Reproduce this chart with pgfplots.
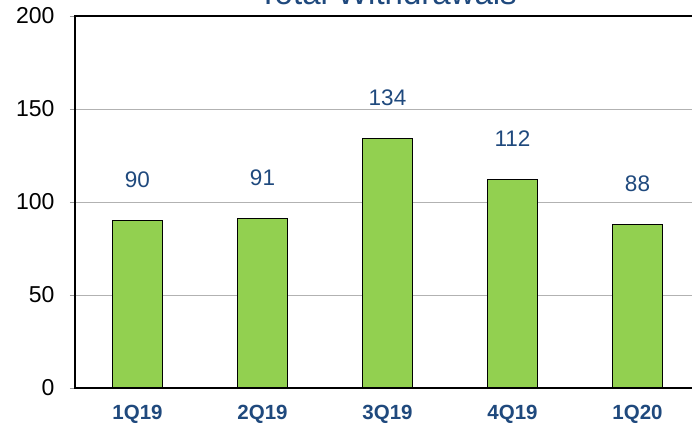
\documentclass[border=0pt]{standalone}
\usepackage{pgfplots}
\pgfplotsset{compat=1.18}
\usepackage{fontspec}
\setmainfont{Liberation Sans}
\definecolor{barg}{HTML}{92D050}
\definecolor{lblue}{HTML}{1F497D}
\begin{document}
\begin{tikzpicture}[x=1pt,y=1pt]
\begin{axis}[
  at={(75pt,37pt)}, anchor=south west, scale only axis,
  width=625pt, height=372pt,
  xmin=-0.5, xmax=4.5, ymin=0, ymax=200,
  ytick={0,50,100,150,200},
  xtick={0,1,2,3,4}, xticklabels={1Q19,2Q19,3Q19,4Q19,1Q20},
  /pgf/number format/assume math mode=true,
  ymajorgrids, grid style={black!30, line width=0.8pt},
  axis line style={black, line width=1.5pt},
  tick align=outside, major tick length=5pt,
  major y tick style={black!40, line width=0.8pt},
  major x tick style={draw=none},
  yticklabel style={font=\fontsize{23}{23}\selectfont, text=black, xshift=-12pt},
  xticklabel style={font=\bfseries\fontsize{20.5}{20.5}\selectfont, text=lblue, anchor=base, yshift=-26pt},
  ybar, bar width=50pt,
  nodes near coords,
  nodes near coords style={anchor=base, yshift=33pt, text=lblue, font=\fontsize{22.5}{22.5}\selectfont},
  clip=false,
]
\addplot[fill=barg, draw=black, line width=1.2pt] coordinates {(0,90) (1,91) (2,134) (3,112) (4,88)};
\node[anchor=base, text=lblue, font=\fontsize{33}{33}\selectfont] at (rel axis cs:0.5,1) [yshift=11pt] {Total Withdrawals};
\end{axis}
\pgfresetboundingbox
\useasboundingbox (0,0) rectangle (692,425);
\end{tikzpicture}
\end{document}
